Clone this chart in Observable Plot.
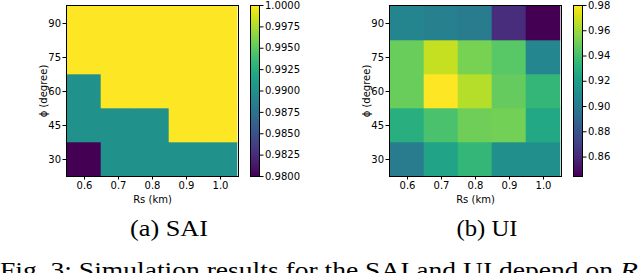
<!DOCTYPE html>
<html>
<head>
<meta charset="utf-8">
<script src="https://cdn.jsdelivr.net/npm/d3@7"></script>
<script src="https://cdn.jsdelivr.net/npm/@observablehq/plot@0.6"></script>
<style>
  html, body { margin: 0; padding: 0; background: white; }
  #page { position: relative; width: 640px; height: 273px; overflow: hidden; background: white; }
  .abs { position: absolute; }
  svg { overflow: visible; }
</style>
</head>
<body>
<div id="page"></div>
<script>
// ---- data ----
const rsLabels = ["0.6", "0.7", "0.8", "0.9", "1.0"];
const phiLabels = [30, 45, 60, 75, 90];
// rows follow phiLabels (30 .. 90), columns follow rsLabels (0.6 .. 1.0)
const saiValues = [
  [0.980, 0.990, 0.990, 0.990, 0.990],
  [0.990, 0.990, 0.990, 1.000, 1.000],
  [0.990, 1.000, 1.000, 1.000, 1.000],
  [1.000, 1.000, 1.000, 1.000, 1.000],
  [1.000, 1.000, 1.000, 1.000, 1.000]
];
const uiValues = [
  [0.901, 0.923, 0.934, 0.912, 0.912],
  [0.930, 0.941, 0.950, 0.951, 0.926],
  [0.949, 0.980, 0.965, 0.948, 0.934],
  [0.949, 0.968, 0.952, 0.945, 0.907],
  [0.906, 0.903, 0.901, 0.862, 0.845]
];
const saiDomain = [0.98, 1.0];
const uiDomain = [0.8446, 0.98];
const saiTicks = [0.98, 0.9825, 0.985, 0.9875, 0.99, 0.9925, 0.995, 0.9975, 1.0];
const uiTicks = [0.86, 0.88, 0.90, 0.92, 0.94, 0.96, 0.98];

function toTable(values) {
  const out = [];
  phiLabels.forEach((p, i) => rsLabels.forEach((r, j) => out.push({rs: r, phi: p, v: values[i][j]})));
  return out;
}

const page = document.getElementById("page");
const axisStyle = {fontFamily: "DejaVu Sans", fontSize: "10px", color: "black", background: "transparent", overflow: "visible"};

function panel(left, values, domain, ticks, fmt) {
  const heat = Plot.plot({
    width: 250, height: 205,
    marginLeft: 66, marginRight: 12, marginTop: 5, marginBottom: 29,
    style: axisStyle,
    x: {domain: rsLabels, padding: 0},
    y: {domain: phiLabels.slice().reverse(), padding: 0},
    color: {type: "linear", scheme: "viridis", domain},
    marks: [
      Plot.cell(toTable(values), {x: "rs", y: "phi", fill: "v", inset: -0.3}),
      Plot.frame({stroke: "black", strokeWidth: 1}),
      Plot.axisX({tickSize: 3.5, tickPadding: 2, label: "Rs (km)", labelAnchor: "center", labelOffset: 26}),
      Plot.axisY({tickSize: 3.5, tickPadding: 2, label: "ϕ (degree)", labelAnchor: "center", labelOffset: 27})
    ]
  });
  heat.classList.add("abs");
  heat.style.left = left + "px";
  heat.style.top = "0px";
  page.appendChild(heat);

  const bar = Plot.plot({
    width: 70, height: 205,
    marginLeft: 0, marginRight: 61, marginTop: 5, marginBottom: 29,
    style: axisStyle,
    x: {domain: [0, 1], axis: null},
    y: {domain, axis: null},
    color: {type: "linear", scheme: "viridis", domain},
    marks: [
      Plot.raster({x1: 0, x2: 1, y1: domain[0], y2: domain[1], width: 1, height: 256, fill: (x, y) => y, imageRendering: "auto"}),
      Plot.frame({stroke: "black", strokeWidth: 1}),
      Plot.axisY({anchor: "right", ticks, tickFormat: d3.format(fmt), tickSize: 3.5, tickPadding: 2, label: null})
    ]
  });
  bar.classList.add("abs");
  bar.style.left = (left + 250) + "px";
  bar.style.top = "0px";
  page.appendChild(bar);
}

panel(0, saiValues, saiDomain, saiTicks, ".4f");
panel(323, uiValues, uiDomain, uiTicks, ".2f");

// ---- captions ----
const ns = "http://www.w3.org/2000/svg";
const cap = document.createElementNS(ns, "svg");
cap.setAttribute("width", 640);
cap.setAttribute("height", 273);
cap.classList.add("abs");
cap.style.left = "0px";
cap.style.top = "0px";
cap.style.overflow = "hidden";
function addText(str, x, y, anchor, len, italic) {
  const t = document.createElementNS(ns, "text");
  t.textContent = str;
  t.setAttribute("x", x);
  t.setAttribute("y", y);
  t.setAttribute("text-anchor", anchor);
  t.style.fontFamily = "'Liberation Serif', 'Times New Roman', Times, serif";
  t.style.fontSize = "24px";
  if (italic) t.style.fontStyle = "italic";
  if (len) { t.setAttribute("textLength", len); t.setAttribute("lengthAdjust", "spacingAndGlyphs"); }
  cap.appendChild(t);
}
addText("(a) SAI", 169, 236, "middle", 78);
addText("(b) UI", 487, 236, "middle", 61);
addText("Fig. 3: Simulation results for the SAI and UI depend on", 0, 278, "start", 613);
addText("R", 620, 278, "start", 18, true);
page.appendChild(cap);
</script>
</body>
</html>
